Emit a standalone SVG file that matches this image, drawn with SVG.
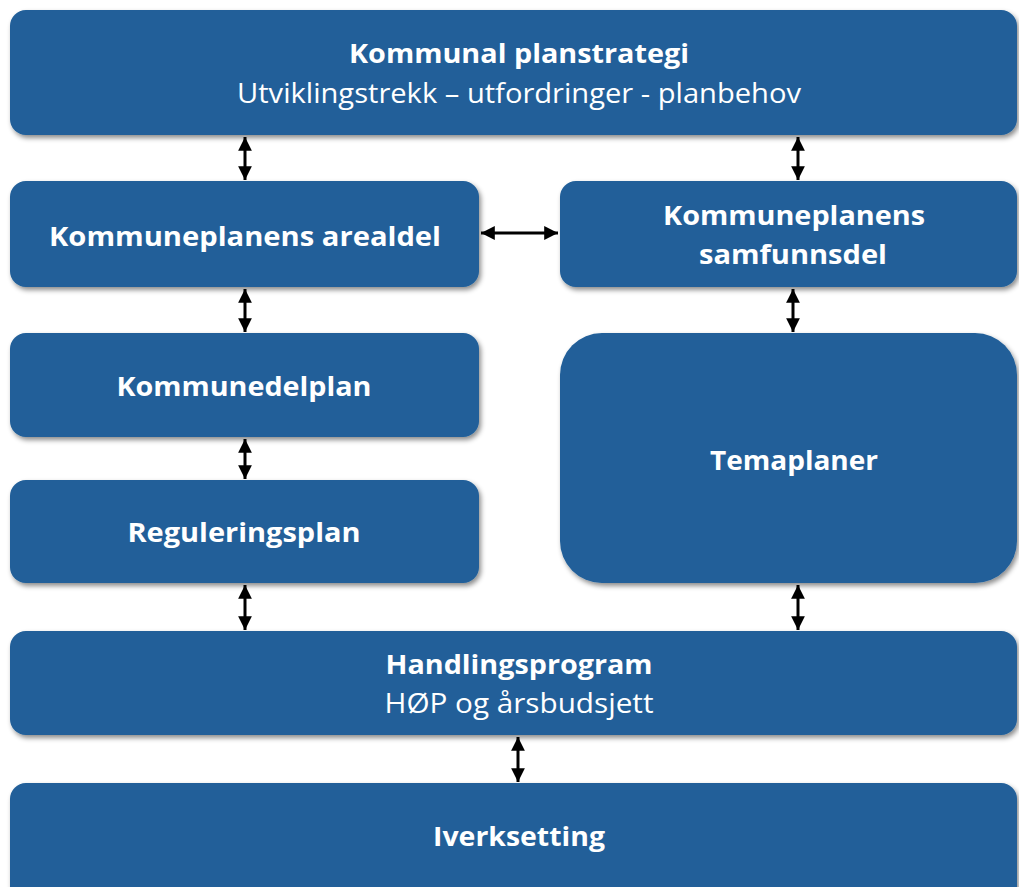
<svg xmlns="http://www.w3.org/2000/svg" width="1019" height="887" viewBox="0 0 1019 887">
<style>
.box{fill:#205F99;filter:url(#sh)}
.t{font-family:"Open Sans","Noto Sans","Liberation Sans",sans-serif;fill:#fff;text-anchor:middle}
.b{font-weight:bold;font-size:27px}
.r{font-size:27px}
.c{stroke:#000;stroke-width:3;fill:none;marker-start:url(#a);marker-end:url(#a)}
</style>
<defs>
<filter id="sh" x="-5%" y="-10%" width="110%" height="130%">
<feDropShadow dx="2" dy="3" stdDeviation="2.5" flood-color="#000" flood-opacity="0.45"/>
</filter>
<marker id="a" viewBox="0 0 10 10" refX="10" refY="5" markerWidth="4.6" markerHeight="4.6" orient="auto-start-reverse" markerUnits="strokeWidth">
<path d="M0,0 L10,5 L0,10 Z" fill="#000"/>
</marker>
</defs>
<rect width="1019" height="887" fill="#fff"/>
<g id="n1"><rect class="box" x="10" y="10" width="1007" height="125" rx="16"/>
<text class="t b" x="519" y="63" textLength="340" lengthAdjust="spacingAndGlyphs">Kommunal planstrategi</text>
<text class="t r" x="519" y="103" textLength="564" lengthAdjust="spacingAndGlyphs">Utviklingstrekk – utfordringer - planbehov</text></g>
<g id="n2"><rect class="box" x="10" y="181" width="469" height="106" rx="16"/>
<text class="t b" x="245" y="246" textLength="392" lengthAdjust="spacingAndGlyphs">Kommuneplanens arealdel</text></g>
<g id="n3"><rect class="box" x="560" y="181" width="457" height="106" rx="16"/>
<text class="t b" x="794" y="225" textLength="262" lengthAdjust="spacingAndGlyphs">Kommuneplanens</text>
<text class="t b" x="793" y="264" textLength="188" lengthAdjust="spacingAndGlyphs">samfunnsdel</text></g>
<g id="n4"><rect class="box" x="10" y="333" width="469" height="104" rx="16"/>
<text class="t b" x="244" y="396" textLength="255" lengthAdjust="spacingAndGlyphs">Kommunedelplan</text></g>
<g id="n5"><rect class="box" x="560" y="333" width="457" height="250" rx="42"/>
<text class="t b" x="794" y="470" textLength="168" lengthAdjust="spacingAndGlyphs">Temaplaner</text></g>
<g id="n6"><rect class="box" x="10" y="480" width="469" height="103" rx="16"/>
<text class="t b" x="244" y="542" textLength="233" lengthAdjust="spacingAndGlyphs">Reguleringsplan</text></g>
<g id="n7"><rect class="box" x="10" y="631" width="1007" height="104" rx="16"/>
<text class="t b" x="519" y="674" textLength="267" lengthAdjust="spacingAndGlyphs">Handlingsprogram</text>
<text class="t r" x="519" y="713" textLength="269" lengthAdjust="spacingAndGlyphs">HØP og årsbudsjett</text></g>
<g id="n8"><rect class="box" x="10" y="783" width="1007" height="120" rx="16"/>
<text class="t b" x="519" y="846" textLength="172" lengthAdjust="spacingAndGlyphs">Iverksetting</text></g>
<g id="connectors">
<line class="c" x1="245" y1="137" x2="245" y2="180"/>
<line class="c" x1="798" y1="137" x2="798" y2="180"/>
<line class="c" x1="481" y1="233" x2="558" y2="233"/>
<line class="c" x1="245" y1="289" x2="245" y2="332"/>
<line class="c" x1="793" y1="289" x2="793" y2="332"/>
<line class="c" x1="245" y1="439" x2="245" y2="479"/>
<line class="c" x1="245" y1="585" x2="245" y2="630"/>
<line class="c" x1="798" y1="585" x2="798" y2="630"/>
<line class="c" x1="518" y1="737" x2="518" y2="782"/>
</g>
</svg>
